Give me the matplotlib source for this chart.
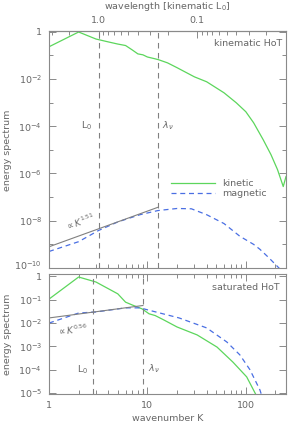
import matplotlib
matplotlib.use('Agg')
import matplotlib.pyplot as plt
import matplotlib.transforms as mtransforms
import numpy as np
from matplotlib.ticker import FixedLocator, NullFormatter, FixedFormatter

plt.rcParams['font.family'] = ['DejaVu Sans']
plt.rcParams['mathtext.fontset'] = 'dejavusans'
plt.rcParams['font.size'] = 6.8

TXT = '#666666'
AX = '#8a8a8a'
GREEN = '#5cd65c'
BLUE = '#4a6fe3'

# top panel: kinematic HoT
k_kin_top = [1, 2, 3, 4, 5, 6, 7, 8, 9, 10, 12, 13, 16, 20, 30, 40, 60, 80, 100,
             120, 150, 180, 210, 240, 256]
e_kin_top = [0.23, 0.97, 0.49, 0.37, 0.30, 0.26, 0.17, 0.115, 0.105, 0.085, 0.071,
             0.065, 0.048, 0.030, 0.0123, 7.6e-3, 2.6e-3, 9.8e-4, 4.1e-4, 1.4e-4,
             2.7e-5, 6.3e-6, 1.45e-6, 2.8e-7, 7.4e-7]
k_mag_top = [1, 2, 3.2, 5, 8.4, 12.8, 20, 28, 40, 60, 87, 120, 139, 170, 208, 256]
e_mag_top = [5.0e-10, 1.3e-9, 3.9e-9, 8.9e-9, 1.8e-8, 2.7e-8, 3.3e-8, 3.2e-8, 1.8e-8,
             7.6e-9, 2.2e-9, 1.0e-9, 6.2e-10, 2.8e-10, 1.2e-10, 5e-11]
fit_top_amp, fit_top_exp, fit_top_kmax = 7.9e-10, 1.51, 12.8
L0_top, lam_top = 3.2, 12.8

# wavelength axis (units of kinematic L0)
wl_major = [1.0, 0.1]
wl_major_labels = ['1.0', '0.1']
wl_minor = [3, 2, 0.9, 0.8, 0.7, 0.6, 0.5, 0.4, 0.3, 0.2,
            0.09, 0.08, 0.07, 0.06, 0.05, 0.04, 0.03, 0.02]

# bottom panel: saturated HoT
k_kin_bot = [1, 2, 3, 5, 6, 7, 8.8, 10.4, 12, 14.5, 20, 32, 51, 74, 102, 124, 135]
e_kin_bot = [0.107, 0.95, 0.58, 0.18, 0.079, 0.060, 0.041, 0.025, 0.021, 0.014,
             6.8e-3, 3.1e-3, 9.3e-4, 2.1e-4, 4.9e-5, 1e-5, 5e-6]
k_mag_bot = [1, 2, 3, 6, 8.4, 13.4, 21, 40, 64, 87, 110, 139, 150]
e_mag_bot = [0.010, 0.027, 0.030, 0.045, 0.045, 0.027, 0.0166, 6.2e-3, 1.55e-3,
             4.3e-4, 1.0e-4, 1.35e-5, 5e-6]
fit_bot_amp, fit_bot_exp, fit_bot_kmax = 0.0166, 0.56, 9.0
L0_bot, lam_bot = 2.8, 9.0

fig = plt.figure(figsize=(2.94, 4.24), dpi=100)
ax1 = fig.add_axes([49/294, 1-268/424, 237/294, 237/424])
ax2 = fig.add_axes([49/294, 1-394/424, 237/294, 120/424])

kminor = [2, 3, 4, 5, 6, 7, 8, 9, 20, 30, 40, 50, 60, 70, 80, 90, 200]


def style(ax, ymaj, ymin, ylabels, bottom_labels):
    ax.set_xscale('log')
    ax.set_yscale('log')
    ax.set_xlim(1, 256)
    for s in ax.spines.values():
        s.set_color(AX)
        s.set_linewidth(0.8)
    ax.xaxis.set_major_locator(FixedLocator([1, 10, 100]))
    ax.xaxis.set_minor_locator(FixedLocator(kminor))
    ax.xaxis.set_minor_formatter(NullFormatter())
    if bottom_labels:
        ax.xaxis.set_major_formatter(FixedFormatter(['1', '10', '100']))
    else:
        ax.xaxis.set_major_formatter(NullFormatter())
    ax.yaxis.set_major_locator(FixedLocator(ymaj))
    ax.yaxis.set_major_formatter(FixedFormatter(ylabels))
    ax.yaxis.set_minor_locator(FixedLocator(ymin))
    ax.yaxis.set_minor_formatter(NullFormatter())
    ax.tick_params(which='both', direction='in', colors=AX, labelcolor=TXT,
                   right=True, width=0.7)
    ax.tick_params(which='major', length=5, pad=5)
    ax.tick_params(which='minor', length=3)
    ax.tick_params(axis='x', which='both', top=True)


# ---- top panel
ax = ax1
ax.plot(k_kin_top, e_kin_top, color=GREEN, lw=0.9, label='kinetic')
ax.plot(k_mag_top, e_mag_top, color=BLUE, lw=0.9, ls=(0, (4, 3)), label='magnetic')
kf = np.array([1, fit_top_kmax])
ax.plot(kf, fit_top_amp * kf**fit_top_exp, color='#808080', lw=0.8)
ax.axvline(L0_top, color='#808080', lw=0.8, ls=(0, (5, 4)))
ax.axvline(lam_top, color='#808080', lw=0.8, ls=(0, (5, 4)))
ax.set_ylim(1e-10, 1.07)
style(ax, [1e-10, 1e-8, 1e-6, 1e-4, 1e-2, 1],
      [1e-9, 1e-7, 1e-5, 1e-3, 1e-1],
      ['10$^{-10}$', '10$^{-8}$', '10$^{-6}$', '10$^{-4}$', '10$^{-2}$', '1'], False)
ax.tick_params(axis='x', which='both', top=False)
ax.text(0.983, 0.949, 'kinematic HoT', transform=ax.transAxes, ha='right',
        va='center', color=TXT)
ax.text(2.43, 1e-4, 'L$_0$', ha='center', va='center', color=TXT)
ax.text(14.2, 1e-4, r'$\lambda_\nu$', ha='left', va='center', color=TXT)
ax.text(2.1, 9e-9, r'$\propto K^{1.51}$', ha='center', va='center', color=TXT,
        rotation=20, fontsize=6.3)
leg = ax.legend(loc='center left', bbox_to_anchor=(0.50, 0.335), frameon=False,
                handlelength=4.6, handletextpad=0.8, labelspacing=0.1,
                borderaxespad=0)
for t in leg.get_texts():
    t.set_color(TXT)

sec = ax.secondary_xaxis('top')
sec.xaxis.set_major_locator(FixedLocator([L0_top / w for w in wl_major]))
sec.xaxis.set_major_formatter(FixedFormatter(wl_major_labels))
sec.xaxis.set_minor_locator(FixedLocator([L0_top / w for w in wl_minor]))
sec.xaxis.set_minor_formatter(NullFormatter())
sec.tick_params(which='both', direction='in', colors=AX, labelcolor=TXT, width=0.7)
sec.tick_params(which='major', length=5, pad=4)
sec.tick_params(which='minor', length=3)
sec.spines['top'].set_color(AX)
sec.set_xlabel('wavelength [kinematic L$_0$]', color=TXT, labelpad=5)

# ---- bottom panel
ax = ax2
ax.plot(k_kin_bot, e_kin_bot, color=GREEN, lw=0.9)
ax.plot(k_mag_bot, e_mag_bot, color=BLUE, lw=0.9, ls=(0, (4, 3)))
kf = np.array([1, fit_bot_kmax])
ax.plot(kf, fit_bot_amp * kf**fit_bot_exp, color='#808080', lw=0.8)
ax.axvline(L0_bot, color='#808080', lw=0.8, ls=(0, (5, 4)))
ax.axvline(lam_bot, color='#808080', lw=0.8, ls=(0, (5, 4)))
ax.set_ylim(9e-6, 1.28)
style(ax, [1e-5, 1e-4, 1e-3, 1e-2, 1e-1, 1], [],
      ['10$^{-5}$', '10$^{-4}$', '10$^{-3}$', '10$^{-2}$', '10$^{-1}$', '1'], True)
ax.text(0.975, 0.89, 'saturated HoT', transform=ax.transAxes, ha='right',
        va='center', color=TXT)
ax.text(2.2, 1e-4, 'L$_0$', ha='center', va='center', color=TXT)
ax.text(10.2, 1.05e-4, r'$\lambda_\nu$', ha='left', va='center', color=TXT)
ax.text(1.75, 5e-3, r'$\propto K^{0.56}$', ha='center', va='center', color=TXT,
        rotation=7, fontsize=6.3)
ax.set_xlabel('wavenumber K', color=TXT, labelpad=3)

fig.text(8/294, 1-150/424, 'energy spectrum', rotation=90, ha='center', va='center',
         color=TXT)
fig.text(8/294, 1-334/424, 'energy spectrum', rotation=90, ha='center', va='center',
         color=TXT)

# nudge the lowest label of the top panel up, as in the original layout
shift = mtransforms.ScaledTranslation(0, 3/100, fig.dpi_scale_trans)
lbl = ax1.yaxis.get_major_ticks()[0].label1
lbl.set_transform(lbl.get_transform() + shift)

fig.savefig('out.png', dpi=100)
